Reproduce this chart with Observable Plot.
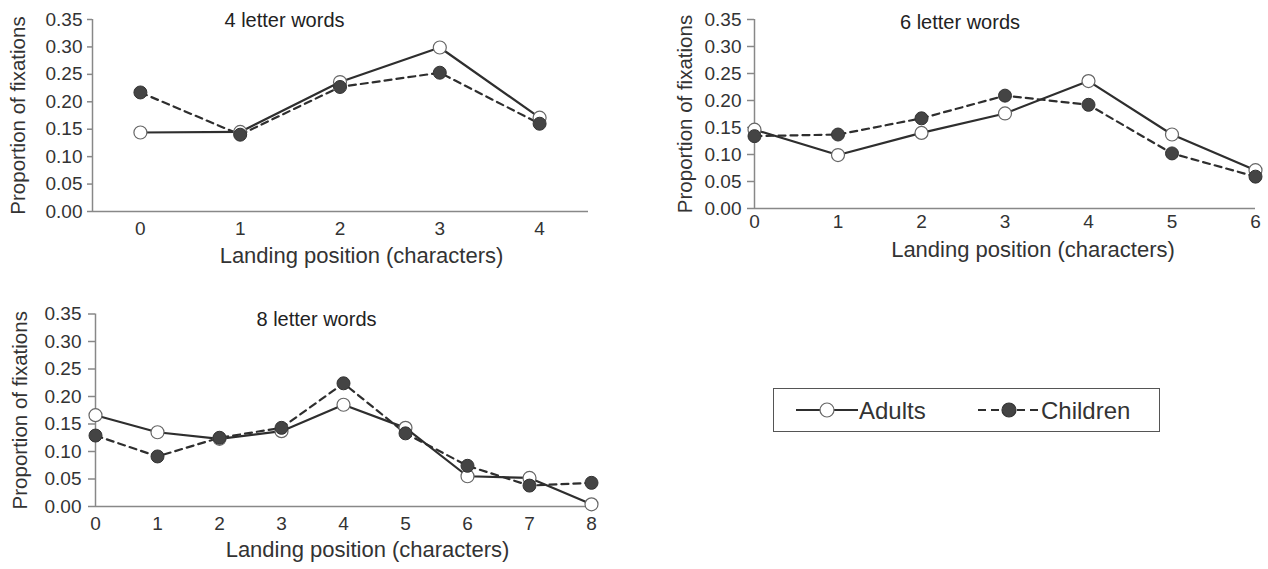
<!DOCTYPE html>
<html>
<head>
<meta charset="utf-8">
<script src="https://cdn.jsdelivr.net/npm/d3@7"></script>
<script src="https://cdn.jsdelivr.net/npm/@observablehq/plot@0.6"></script>
<style>
  html, body { margin: 0; padding: 0; background: #fff; }
  #wrap { position: relative; width: 1268px; height: 569px; overflow: hidden; font-family: "Liberation Sans", Arial, sans-serif; }
  .panel { position: absolute; }
  .panel svg { overflow: visible; }
  #legend { position: absolute; left: 773px; top: 388px; width: 387px; height: 44px; border: 1.5px solid #555; box-sizing: border-box; }
</style>
</head>
<body>
<div id="wrap">
  <div class="panel" id="p1" style="left:0px;top:0px"></div>
  <div class="panel" id="p2" style="left:680px;top:0px"></div>
  <div class="panel" id="p3" style="left:0px;top:290px"></div>
  <div id="legend"></div>
</div>
<script>
// ---- data ----
const seriesNames = ["Adults", "Children"];
const yTicks = [0, 0.05, 0.10, 0.15, 0.20, 0.25, 0.30, 0.35];
const xLabel = "Landing position (characters)";
const yLabel = "Proportion of fixations";

const titles = ["4 letter words", "6 letter words", "8 letter words"];

const positions4 = [0, 1, 2, 3, 4];
const adults4   = [0.144, 0.145, 0.236, 0.299, 0.171];
const children4 = [0.217, 0.140, 0.227, 0.253, 0.160];

const positions6 = [0, 1, 2, 3, 4, 5, 6];
const adults6   = [0.146, 0.099, 0.140, 0.176, 0.236, 0.137, 0.071];
const children6 = [0.134, 0.137, 0.167, 0.209, 0.192, 0.102, 0.059];

const positions8 = [0, 1, 2, 3, 4, 5, 6, 7, 8];
const adults8   = [0.166, 0.135, 0.123, 0.137, 0.185, 0.143, 0.055, 0.052, 0.004];
const children8 = [0.129, 0.091, 0.125, 0.143, 0.224, 0.133, 0.074, 0.038, 0.043];

// ---- helpers ----
const lineColor = "#2e2e2e";
const axisColor = "#888";
const font = "'Liberation Sans', Arial, sans-serif";

function rows(pos, a, c) {
  const out = [];
  pos.forEach((p, i) => out.push({x: p, y: a[i], s: seriesNames[0]}));
  pos.forEach((p, i) => out.push({x: p, y: c[i], s: seriesNames[1]}));
  return out;
}

function panel(opts) {
  const data = rows(opts.pos, opts.a, opts.c);
  const A = data.filter(d => d.s === seriesNames[0]);
  const C = data.filter(d => d.s === seriesNames[1]);
  return Plot.plot({
    width: opts.width, height: opts.height,
    marginLeft: opts.ml, marginRight: opts.mr, marginTop: opts.mt, marginBottom: opts.mb,
    style: {fontFamily: font, fontSize: "19px", color: "#333", background: "transparent", overflow: "visible"},
    x: {domain: opts.xdomain},
    y: {domain: [0, 0.35]},
    marks: [
      Plot.ruleY([0], {stroke: axisColor, strokeWidth: 1.5}),
      Plot.ruleX([opts.xdomain[0]], {stroke: axisColor, strokeWidth: 1.5}),
      Plot.axisY({ticks: yTicks, tickFormat: d3.format(".2f"), tickSize: opts.yts, tickPadding: opts.ypad, stroke: axisColor, strokeWidth: 1.5, label: null, fill: "#333", fontSize: 19}),
      Plot.axisX({ticks: opts.pos, tickFormat: d => String(d), tickSize: 0, tickPadding: opts.xpad, label: null, fill: "#333", fontSize: 19}),
      Plot.line(A, {x: "x", y: "y", stroke: lineColor, strokeWidth: 2.2}),
      Plot.line(C, {x: "x", y: "y", stroke: lineColor, strokeWidth: 2.2, strokeDasharray: "7,5"}),
      Plot.dot(A, {x: "x", y: "y", r: 6.5, fill: "white", stroke: "#666", strokeWidth: 1.2}),
      Plot.dot(C, {x: "x", y: "y", r: 6.5, fill: "#444", stroke: "#333", strokeWidth: 1}),
      Plot.text([opts.title], {frameAnchor: "top", dx: opts.tdx, dy: opts.tdy, fontSize: 20, fill: "#222", lineAnchor: "top"}),
      Plot.text([xLabel], {frameAnchor: "bottom", dx: opts.xldx, dy: opts.xldy, fontSize: 22, fill: "#333"}),
      Plot.text([yLabel], {frameAnchor: "left", dx: opts.yldx, rotate: -90, textAnchor: "middle", fontSize: 20.5, fill: "#333"})
    ]
  });
}

document.getElementById("p1").appendChild(panel({
  pos: positions4, a: adults4, c: children4, title: titles[0],
  width: 600, height: 270, ml: 92, mr: 12, mt: 19, mb: 59,
  xdomain: [-0.48, 4.49], xpad: 10, yts: 5, ypad: 5,
  tdx: -56, tdy: -7, xldx: 21, xldy: 51, yldx: -74
}));

document.getElementById("p2").appendChild(panel({
  pos: positions6, a: adults6, c: children6, title: titles[1],
  width: 588, height: 270, ml: 74, mr: 13, mt: 19, mb: 62,
  xdomain: [0, 6], xpad: 6, yts: 7, ypad: 6,
  tdx: -45, tdy: -5, xldx: 28, xldy: 48, yldx: -69
}));

document.getElementById("p3").appendChild(panel({
  pos: positions8, a: adults8, c: children8, title: titles[2],
  width: 620, height: 279, ml: 95, mr: 29, mt: 23.5, mb: 63,
  xdomain: [0, 8], xpad: 10, yts: 7, ypad: 7,
  tdx: -27, tdy: -2, xldx: 24, xldy: 50, yldx: -75.5
}));

// ---- legend ----
const legend = d3.select("#legend").append("svg")
  .attr("width", 387).attr("height", 44)
  .style("position", "absolute").style("left", "-1.5px").style("top", "-1.5px")
  .style("font-family", font);
const items = [
  {name: seriesNames[0], x: 23, dash: null, fill: "white", stroke: "#666"},
  {name: seriesNames[1], x: 205, dash: "8,5", fill: "#444", stroke: "#333"}
];
items.forEach(it => {
  legend.append("line").attr("x1", it.x).attr("x2", it.x + 62).attr("y1", 22).attr("y2", 22)
    .attr("stroke", lineColor).attr("stroke-width", 2.2).attr("stroke-dasharray", it.dash);
  legend.append("circle").attr("cx", it.x + 31).attr("cy", 22).attr("r", 7)
    .attr("fill", it.fill).attr("stroke", it.stroke).attr("stroke-width", 1.2);
  legend.append("text").attr("x", it.x + 63).attr("y", 30.5).attr("font-size", 24).attr("fill", "#333").text(it.name);
});
</script>
</body>
</html>
